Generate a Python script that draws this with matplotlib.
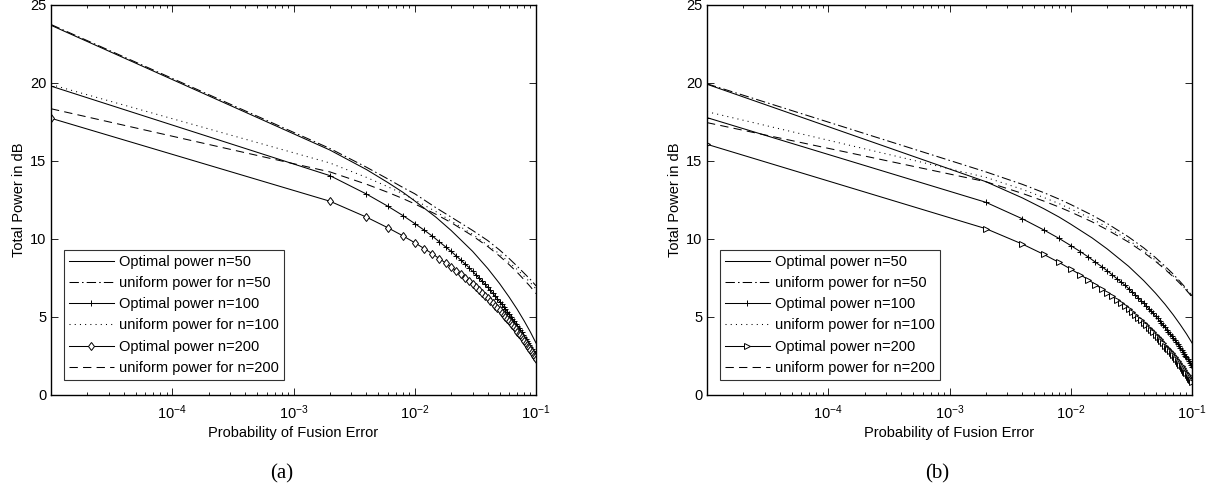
import matplotlib
matplotlib.use("Agg")
import matplotlib.pyplot as plt
from matplotlib.ticker import FixedLocator, LogLocator, NullFormatter, LogFormatterSciNotation

plt.rcParams["font.family"] = ["Liberation Sans", "DejaVu Sans"]
plt.rcParams["mathtext.fontset"] = "custom"
plt.rcParams["mathtext.rm"] = "Liberation Sans"
plt.rcParams["mathtext.it"] = "Liberation Sans:italic"
plt.rcParams["mathtext.bf"] = "Liberation Sans:bold"

# x grid of the marked (optimal n=100 / n=200) curves: 1e-5, then every 0.002 up to 0.1
PE_FINE = [1e-5] + [round(0.002 * k, 3) for k in range(1, 51)]
# x grid of the unmarked curves
PE_COARSE = [1e-5, 0.002, 0.004, 0.006, 0.008, 0.01, 0.015, 0.02,
             0.03, 0.04, 0.05, 0.06, 0.07, 0.08, 0.09, 0.1]

# ---- panel (a) ----
A_OPT50 = [23.7, 15.7, 14.45, 13.62, 12.99, 12.44, 11.39, 10.54,
           9.21, 8.11, 7.15, 6.28, 5.49, 4.74, 4.03, 3.33]
A_UNI50 = [23.75, 15.8, 14.6, 13.85, 13.3, 12.9, 12.0, 11.4,
           10.55, 9.9, 9.3, 8.75, 8.25, 7.8, 7.4, 7.0]
A_OPT100 = [19.8, 14.06, 12.88, 12.10, 11.50, 10.99, 10.56, 10.18, 9.81, 9.49, 9.20,
            8.91, 8.65, 8.40, 8.17, 7.93, 7.70, 7.50, 7.29, 7.09, 6.91,
            6.71, 6.52, 6.34, 6.18, 5.99, 5.83, 5.66, 5.49, 5.34, 5.18,
            5.03, 4.88, 4.73, 4.58, 4.43, 4.28, 4.15, 4.02, 3.87, 3.72,
            3.59, 3.45, 3.32, 3.19, 3.05, 2.92, 2.79, 2.66, 2.52, 2.39]
A_UNI100 = [19.9, 14.87, 13.95, 13.35, 12.9, 12.5, 11.75, 11.15,
            10.3, 9.6, 9.05, 8.5, 8.05, 7.6, 7.2, 6.8]
A_OPT200 = [17.74, 12.42, 11.40, 10.72, 10.20, 9.76, 9.38, 9.05, 8.73, 8.46, 8.20,
            7.96, 7.73, 7.51, 7.31, 7.11, 6.90, 6.73, 6.54, 6.37, 6.21,
            6.04, 5.88, 5.72, 5.58, 5.42, 5.28, 5.13, 4.99, 4.86, 4.72,
            4.59, 4.46, 4.33, 4.20, 4.07, 3.94, 3.82, 3.71, 3.58, 3.45,
            3.33, 3.22, 3.10, 2.99, 2.87, 2.76, 2.64, 2.53, 2.41, 2.30]
A_UNI200 = [18.35, 14.3, 13.51, 12.99, 12.59, 12.25, 11.58, 11.05,
            10.2, 9.52, 8.91, 8.36, 7.86, 7.38, 6.94, 6.5]

# ---- panel (b) ----
B_OPT50 = [19.92, 13.67, 12.63, 11.94, 11.41, 10.95, 10.07, 9.36,
           8.25, 7.33, 6.53, 5.81, 5.14, 4.51, 3.92, 3.34]
B_UNI50 = [19.95, 14.3, 13.5, 12.97, 12.56, 12.21, 11.53, 10.99,
           10.13, 9.43, 8.81, 8.25, 7.75, 7.26, 6.81, 6.36]
B_OPT100 = [17.78, 12.35, 11.29, 10.58, 10.04, 9.58, 9.19, 8.84, 8.51, 8.23, 7.96,
            7.70, 7.46, 7.24, 7.03, 6.82, 6.61, 6.43, 6.23, 6.05, 5.89,
            5.71, 5.54, 5.38, 5.23, 5.06, 4.91, 4.76, 4.61, 4.48, 4.33,
            4.19, 4.06, 3.92, 3.79, 3.65, 3.52, 3.40, 3.28, 3.14, 3.01,
            2.89, 2.77, 2.65, 2.53, 2.41, 2.29, 2.17, 2.05, 1.93, 1.81]
B_UNI100 = [18.16, 13.95, 13.18, 12.66, 12.27, 11.93, 11.28, 10.76,
            9.93, 9.25, 8.65, 8.12, 7.63, 7.16, 6.72, 6.29]
B_OPT200 = [16.07, 10.66, 9.67, 9.01, 8.50, 8.07, 7.71, 7.38, 7.08, 6.81, 6.56,
            6.32, 6.10, 5.89, 5.69, 5.49, 5.30, 5.13, 4.95, 4.78, 4.63,
            4.46, 4.30, 4.15, 4.01, 3.86, 3.72, 3.58, 3.44, 3.31, 3.17,
            3.04, 2.92, 2.79, 2.67, 2.54, 2.41, 2.30, 2.19, 2.06, 1.94,
            1.83, 1.71, 1.60, 1.49, 1.38, 1.27, 1.15, 1.04, 0.93, 0.82]
B_UNI200 = [17.46, 13.67, 12.92, 12.43, 12.05, 11.73, 11.10, 10.59,
            9.80, 9.14, 8.57, 8.05, 7.58, 7.13, 6.71, 6.29]

LABELS = ["Optimal power n=50", "uniform power for n=50", "Optimal power n=100",
          "uniform power for n=100", "Optimal power n=200", "uniform power for n=200"]

LW = 0.75
FS = 10.5


def draw_panel(ax, opt50, uni50, opt100, uni100, opt200, uni200, marker200):
    ax.plot(PE_COARSE, opt50, color="black", lw=LW, ls="-", label=LABELS[0])
    ax.plot(PE_COARSE, uni50, color="black", lw=LW, ls=(0, (9, 3, 1.5, 3)), label=LABELS[1])
    ax.plot(PE_FINE, opt100, color="black", lw=LW, ls="-", marker="+",
            markersize=4.5, markeredgewidth=0.7, label=LABELS[2])
    ax.plot(PE_COARSE, uni100, color="black", lw=LW, ls=(0, (1, 4)), label=LABELS[3])
    ax.plot(PE_FINE, opt200, color="black", lw=LW, ls="-", marker=marker200,
            markersize=4.5, markeredgewidth=0.7, markerfacecolor="white", label=LABELS[4])
    ax.plot(PE_COARSE, uni200, color="black", lw=LW, ls=(0, (8, 5)), label=LABELS[5])

    ax.set_xscale("log")
    ax.set_xlim(1e-5, 1e-1)
    ax.set_ylim(0, 25)
    ax.set_yticks([0, 5, 10, 15, 20, 25])
    ax.xaxis.set_major_locator(FixedLocator([1e-4, 1e-3, 1e-2, 1e-1]))
    ax.xaxis.set_major_formatter(LogFormatterSciNotation())
    ax.xaxis.set_minor_locator(LogLocator(base=10, subs=range(2, 10), numticks=20))
    ax.xaxis.set_minor_formatter(NullFormatter())
    ax.tick_params(which="both", direction="in", top=True, right=True, labelsize=FS)
    ax.tick_params(which="major", length=5, width=0.6)
    ax.tick_params(which="minor", length=2.5, width=0.6)
    ax.tick_params(axis="x", which="major", pad=6)
    for spine in ax.spines.values():
        spine.set_linewidth(1.0)
    ax.set_xlabel("Probability of Fusion Error", fontsize=FS, labelpad=3)
    ax.set_ylabel("Total Power in dB", fontsize=FS, labelpad=3)

    leg = ax.legend(loc="lower left", bbox_to_anchor=(0.026, 0.038), borderaxespad=0,
                    fontsize=FS, frameon=True, fancybox=False, handlelength=3.1,
                    handletextpad=0.35, labelspacing=0.5, borderpad=0.35)
    leg.get_frame().set_edgecolor("black")
    leg.get_frame().set_linewidth(0.8)


fig = plt.figure(figsize=(12.18, 4.92), dpi=100)
ax_a = fig.add_axes([51 / 1218, 97 / 492, 485 / 1218, 390 / 492])
ax_b = fig.add_axes([707 / 1218, 97 / 492, 485 / 1218, 390 / 492])

draw_panel(ax_a, A_OPT50, A_UNI50, A_OPT100, A_UNI100, A_OPT200, A_UNI200, "d")
draw_panel(ax_b, B_OPT50, B_UNI50, B_OPT100, B_UNI100, B_OPT200, B_UNI200, ">")

fig.text(282 / 1218, 1 - 474 / 492, "(a)", ha="center", va="center",
         fontsize=15, family="Liberation Serif")
fig.text(937 / 1218, 1 - 474 / 492, "(b)", ha="center", va="center",
         fontsize=15, family="Liberation Serif")

fig.savefig("out.png", dpi=100)
